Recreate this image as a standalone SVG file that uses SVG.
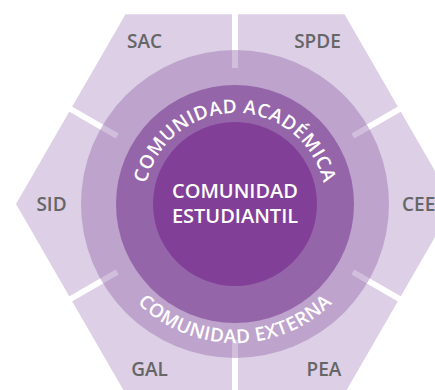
<svg xmlns="http://www.w3.org/2000/svg" xmlns:xlink="http://www.w3.org/1999/xlink" width="435" height="390" viewBox="0 0 435 390">
  <style>
    .lbl { font-family: "Open Sans", "Noto Sans", "Liberation Sans", sans-serif; font-weight: 600; font-size: 19px; fill: #666666; text-anchor: middle; }
    .arc { font-family: "Open Sans", "Noto Sans", "Liberation Sans", sans-serif; font-weight: 600; font-size: 19px; fill: #ffffff; letter-spacing: 0.5px; }
    .ctr { font-family: "Open Sans", "Noto Sans", "Liberation Sans", sans-serif; font-weight: 600; font-size: 20px; fill: #ffffff; text-anchor: middle; }
    .gap { stroke: #ffffff; stroke-width: 6; fill: none; }
    .gapf { stroke: #ffffff; stroke-opacity: 0.3; stroke-width: 6; fill: none; }
  </style>
  <defs>
    <path id="topArc" d="M235,295 A91,91 0 1 1 235,113 A91,91 0 1 1 235,295"/>
    <path id="botArc" d="M235,65 A139,139 0 1 0 235,343 A139,139 0 1 0 235,65"/>
  </defs>
  <rect width="435" height="390" fill="#ffffff"/>
  <g id="hexagon">
    <polygon points="454,204 344.5,14.3 125.5,14.3 16,204 125.5,393.7 344.5,393.7" fill="#dccfe6"/>
  </g>
  <g id="connectors">
    <line class="gap" x1="235" y1="68" x2="235" y2="-40"/>
    <line class="gap" x1="352.8" y1="136" x2="442.8" y2="84"/>
    <line class="gap" x1="117.2" y1="136" x2="27.2" y2="84"/>
    <line class="gap" x1="117.2" y1="272" x2="27.2" y2="324"/>
    <line class="gap" x1="235" y1="340" x2="235" y2="444"/>
    <line class="gap" x1="352.8" y1="272" x2="442.8" y2="324"/>
  </g>
  <g id="comunidad-externa">
    <circle cx="235" cy="204" r="154" fill="#bea3cd"/>
    <g>
      <line class="gapf" x1="235" y1="68" x2="235" y2="50"/>
      <line class="gapf" x1="352.8" y1="136" x2="368.4" y2="127"/>
      <line class="gapf" x1="117.2" y1="136" x2="101.6" y2="127"/>
      <line class="gapf" x1="117.2" y1="272" x2="101.6" y2="281"/>
      <line class="gapf" x1="235" y1="340" x2="235" y2="358"/>
      <line class="gapf" x1="352.8" y1="272" x2="368.4" y2="281"/>
    </g>
    <text class="arc"><textPath xlink:href="#botArc" href="#botArc" startOffset="50%" text-anchor="middle">COMUNIDAD EXTERNA</textPath></text>
  </g>
  <g id="comunidad-academica">
    <circle cx="235" cy="204" r="119" fill="#9565aa"/>
    <text class="arc"><textPath xlink:href="#topArc" href="#topArc" startOffset="50%" text-anchor="middle">COMUNIDAD ACADÉMICA</textPath></text>
  </g>
  <g id="comunidad-estudiantil">
    <circle cx="235" cy="204" r="82" fill="#823f97"/>
    <text class="ctr" x="235" y="198">COMUNIDAD</text>
    <text class="ctr" x="235" y="223">ESTUDIANTIL</text>
  </g>
  <g id="sac"><text class="lbl" x="144.5" y="48">SAC</text></g>
  <g id="spde"><text class="lbl" x="317.5" y="48">SPDE</text></g>
  <g id="sid"><text class="lbl" x="51.5" y="211">SID</text></g>
  <g id="cee"><text class="lbl" x="402" y="211" style="text-anchor:start">CEE</text></g>
  <g id="gal"><text class="lbl" x="149.5" y="376">GAL</text></g>
  <g id="pea"><text class="lbl" x="324" y="376">PEA</text></g>
</svg>
